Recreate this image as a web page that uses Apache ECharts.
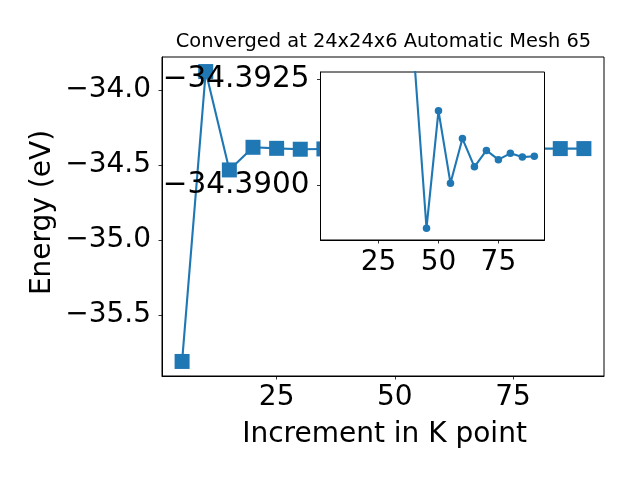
<!DOCTYPE html>
<html>
<head>
<meta charset="utf-8">
<script src="https://cdn.jsdelivr.net/npm/echarts@6/dist/echarts.min.js"></script>
<style>
html,body{margin:0;padding:0;background:#fff;}
#chart{width:640px;height:480px;}
</style>
</head>
<body>
<div id="chart"></div>
<script>
// ---- data ----
const kpoints = [5, 10, 15, 20, 25, 30, 35, 40, 45, 50, 55, 60, 65, 70, 75, 80, 85, 90];
const energy = [-35.81, -33.877, -34.533, -34.382, -34.389, -34.395, -34.393, -34.3929,
  -34.38897, -34.39176, -34.39004, -34.39110, -34.39043, -34.39082, -34.39060, -34.39075, -34.39066, -34.39068];
const insetFromK = 40;   // the inset zooms on the converged tail
const mainXTicks = [25, 50, 75];
const mainYTicks = [-35.5, -35.0, -34.5, -34.0];
const insetXTicks = [25, 50, 75];
const insetYTicks = [-34.3925, -34.3900];
const titleText = 'Converged at 24x24x6 Automatic Mesh 65';
const xLabel = 'Increment in K point';
const yLabel = 'Energy (eV)';

const FONT = 'DejaVu Sans';
const BLUE = '#1f77b4';
const pts = kpoints.map((k, i) => [k, energy[i]]);
const insetPts = pts.filter(p => p[0] >= insetFromK);
const fmt = d => v => (v < 0 ? '\u2212' : '') + Math.abs(v).toFixed(d);

const tick = {show: true, inside: false, length: 3.5, lineStyle: {color: '#000', width: 0.8}};
const lab = {color: '#000', fontFamily: FONT, fontSize: 28};

const chart = echarts.init(document.getElementById('chart'), null, {renderer: 'canvas'});
chart.setOption({
  animation: false,
  backgroundColor: '#fff',
  grid: [
    {left: 162, top: 57, width: 442, height: 319, show: true, backgroundColor: '#fff',
     borderColor: '#000', borderWidth: 1, z: 0},
    {left: 320.5, top: 72, width: 224, height: 168, show: true, backgroundColor: '#fff',
     borderColor: '#000', borderWidth: 1, z: 5}
  ],
  xAxis: [
    {type: 'value', gridIndex: 0, min: 0.75, max: 94.25,
     axisLine: {show: true, lineStyle: {color: '#000', width: 1}},
     axisTick: Object.assign({customValues: mainXTicks}, tick),
     axisLabel: Object.assign({customValues: mainXTicks, margin: 8, formatter: v => String(v)}, lab),
     splitLine: {show: false}},
    {type: 'value', gridIndex: 1, min: 0.75, max: 94.25, z: 6,
     axisLine: {show: true, lineStyle: {color: '#000', width: 1}},
     axisTick: Object.assign({customValues: insetXTicks}, tick),
     axisLabel: Object.assign({customValues: insetXTicks, margin: 9, formatter: v => String(v)}, lab),
     splitLine: {show: false}}
  ],
  yAxis: [
    {type: 'value', gridIndex: 0, min: -35.907, max: -33.78,
     axisLine: {show: true, lineStyle: {color: '#000', width: 1}},
     axisTick: Object.assign({customValues: mainYTicks}, tick),
     axisLabel: Object.assign({customValues: mainYTicks, margin: 11, formatter: fmt(1)}, lab),
     splitLine: {show: false}},
    {type: 'value', gridIndex: 1, inverse: true, min: -34.392683, max: -34.38869, z: 6,
     axisLine: {show: true, lineStyle: {color: '#000', width: 1}},
     axisTick: Object.assign({customValues: insetYTicks}, tick),
     axisLabel: Object.assign({customValues: insetYTicks, margin: 11, formatter: fmt(4)}, lab, {fontSize: 29.5}),
     splitLine: {show: false}}
  ],
  series: [
    {type: 'line', xAxisIndex: 0, yAxisIndex: 0, data: pts, z: 2,
     symbol: 'rect', symbolSize: 15, showAllSymbol: true,
     lineStyle: {color: BLUE, width: 2.1}, itemStyle: {color: BLUE}},
    {type: 'line', xAxisIndex: 1, yAxisIndex: 1, data: insetPts, z: 7, clip: true,
     symbol: 'circle', symbolSize: 7.5, showAllSymbol: true,
     lineStyle: {color: BLUE, width: 2.1}, itemStyle: {color: BLUE}}
  ],
  graphic: [
    {type: 'text', x: 383.5, y: 42, z: 10,
     style: {text: titleText, fontFamily: FONT, fontSize: 19.4, fill: '#000',
             align: 'center', verticalAlign: 'middle', textAlign: 'center', textVerticalAlign: 'middle'}},
    {type: 'text', x: 384.5, y: 435, z: 10,
     style: {text: xLabel, fontFamily: FONT, fontSize: 28, fill: '#000',
             align: 'center', verticalAlign: 'middle', textAlign: 'center', textVerticalAlign: 'middle'}},
    {type: 'text', x: 43, y: 212.5, rotation: Math.PI / 2, z: 10,
     style: {text: yLabel, fontFamily: FONT, fontSize: 28, fill: '#000',
             align: 'center', verticalAlign: 'middle', textAlign: 'center', textVerticalAlign: 'middle'}}
  ]
});
</script>
</body>
</html>
